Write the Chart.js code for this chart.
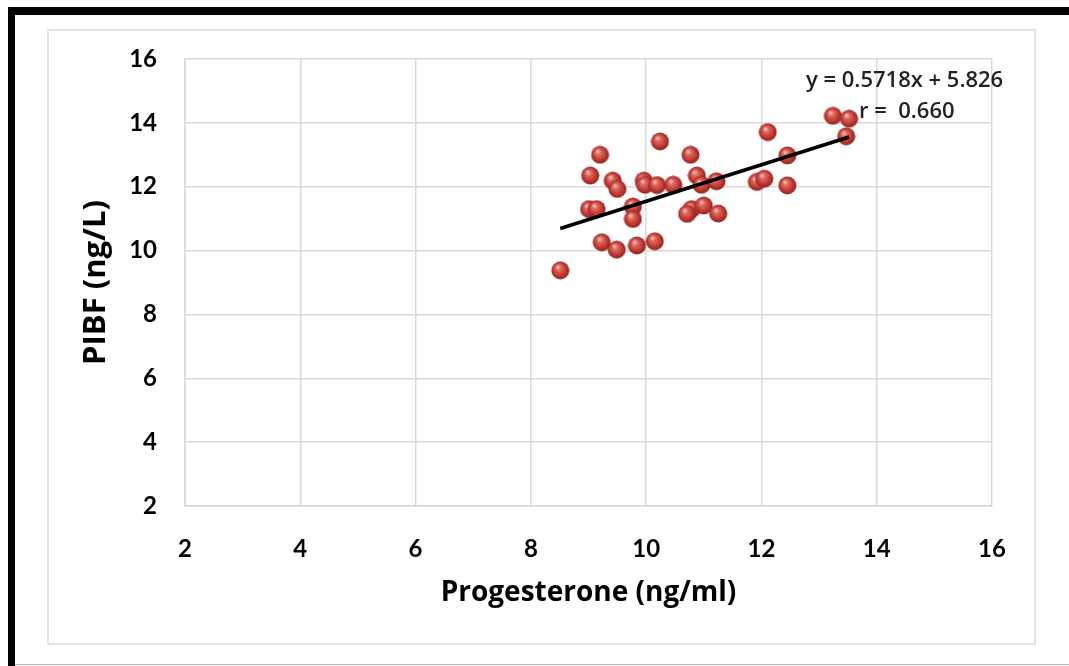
<!DOCTYPE html>
<html>
<head>
<meta charset="utf-8">
<title>PIBF vs Progesterone</title>
<script src="https://cdn.jsdelivr.net/npm/chart.js@4"></script>
<style>
  html, body { margin: 0; padding: 0; background: #fff; }
  #page { position: relative; width: 1069px; height: 666px; overflow: hidden; }
  /* black frame of the original figure (top + left only, bottom is a thin grey rule) */
  #frame { position: absolute; left: 8px; top: 7px; right: -20px; bottom: -20px;
           border-top: 8px solid #000; border-left: 7px solid #000; }
  #rule { position: absolute; left: 15px; right: 0; top: 664px; height: 1px; background: #b4b4b4; }
  #box { position: absolute; left: 47px; top: 29px; width: 985px; height: 612px;
         border: 2px solid #e3e3e3; }
  #wrap { position: absolute; left: 0; top: 0; width: 1069px; height: 666px; }
</style>
</head>
<body>
<div id="page">
  <div id="frame"></div>
  <div id="rule"></div>
  <div id="box"></div>
  <div id="wrap"><canvas id="chart"></canvas></div>
</div>
<script>
// values
const progesterone = [8.51, 9.20, 9.03, 9.42, 9.50, 9.01, 9.14, 9.77, 9.77, 9.23, 9.49, 9.84,
  10.15, 10.24, 9.96, 9.98, 10.19, 10.47, 10.77, 10.88, 10.96, 11.22, 10.79, 10.71, 11.00,
  11.25, 12.11, 12.45, 12.45, 11.92, 12.05, 13.24, 13.52, 13.47];
const pibf = [9.38, 13.00, 12.35, 12.19, 11.93, 11.30, 11.30, 11.38, 10.99, 10.26, 10.03, 10.16,
  10.29, 13.42, 12.19, 12.06, 12.05, 12.06, 13.00, 12.35, 12.06, 12.17, 11.30, 11.15, 11.41,
  11.16, 13.71, 12.98, 12.04, 12.15, 12.25, 14.22, 14.13, 13.58];

// trendline as printed on the chart
const slope = 0.5718;
const intercept = 5.826;
const rValue = '0.660';

const axisTicks = [2, 4, 6, 8, 10, 12, 14, 16];

const points = progesterone.map((x, i) => ({ x: x, y: pibf[i] }));
const xMin = Math.min(...progesterone);
const xMax = Math.max(...progesterone);
const trend = [xMin, xMax].map(x => ({ x: x, y: slope * x + intercept }));

// shaded red ball like the excel marker
function makeBall(d) {
  const c = document.createElement('canvas');
  c.width = d; c.height = d;
  const g = c.getContext('2d');
  const r = d / 2;
  const grad = g.createRadialGradient(r - 2.5, r - 3.5, 0.5, r, r, r);
  grad.addColorStop(0, '#f6c4bd');
  grad.addColorStop(0.25, '#de6a60');
  grad.addColorStop(0.65, '#c23a33');
  grad.addColorStop(1, '#8a1f1b');
  g.fillStyle = grad;
  g.beginPath();
  g.arc(r, r, r - 0.5, 0, Math.PI * 2);
  g.fill();
  return c;
}
const ball = makeBall(19);

const labelFont = { family: 'Lato', size: 24, weight: 'bold' };
const xTitleFont = { family: 'Open Sans', size: 28, weight: 'bold' };
const yTitleFont = { family: 'Open Sans', size: 31, weight: 'bold' };
const gridColor = '#d9d9d9';

const equationLabel = {
  id: 'equationLabel',
  afterDatasetsDraw(chart) {
    const ctx = chart.ctx;
    ctx.save();
    ctx.fillStyle = '#222';
    ctx.font = '600 22px "Open Sans"';
    ctx.textBaseline = 'middle';
    ctx.textAlign = 'left';
    ctx.fillText('y = ' + slope + 'x + ' + intercept, 806, 81);
    ctx.fillText('r =  ' + rValue, 859, 112);
    ctx.restore();
  }
};

new Chart(document.getElementById('chart'), {
  type: 'scatter',
  data: {
    datasets: [
      {
        type: 'line',
        data: trend,
        borderColor: '#000',
        borderWidth: 3.5,
        pointRadius: 0,
        fill: false,
        order: 0
      },
      {
        data: points,
        pointStyle: ball,
        pointRadius: 9,
        order: 1
      }
    ]
  },
  options: {
    responsive: true,
    maintainAspectRatio: false,
    animation: false,
    layout: { padding: { left: 78, top: 59, right: 77, bottom: 56 } },
    plugins: {
      legend: { display: false },
      tooltip: { enabled: false }
    },
    scales: {
      x: {
        type: 'linear',
        min: 2, max: 16,
        afterBuildTicks: s => { s.ticks = axisTicks.map(v => ({ value: v })); },
        afterFit: s => { s.height = 104; },
        ticks: { font: labelFont, color: '#000', padding: 29 },
        grid: { color: gridColor, lineWidth: 1.5, drawTicks: false },
        border: { color: gridColor, width: 1.5 },
        title: { display: true, text: 'Progesterone (ng/ml)', font: xTitleFont, color: '#000', padding: 0 }
      },
      y: {
        type: 'linear',
        min: 2, max: 16,
        afterBuildTicks: s => { s.ticks = axisTicks.map(v => ({ value: v })); },
        afterFit: s => { s.width = 107; },
        ticks: { font: labelFont, color: '#000', padding: 28 },
        grid: { color: gridColor, lineWidth: 1.5, drawTicks: false },
        border: { color: gridColor, width: 1.5 },
        title: { display: true, text: 'PIBF (ng/L)', font: yTitleFont, color: '#000', padding: 0 }
      }
    }
  },
  plugins: [equationLabel]
});
</script>
</body>
</html>
